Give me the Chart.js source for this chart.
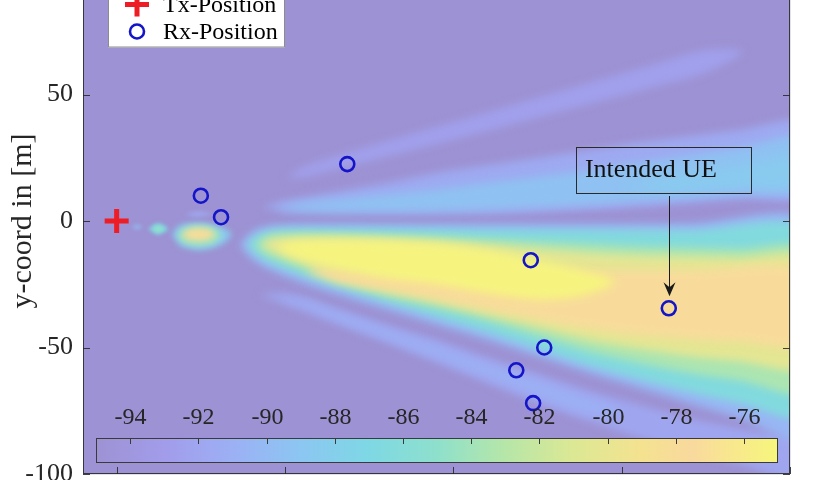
<!DOCTYPE html>
<html><head><meta charset="utf-8">
<script src="https://cdn.jsdelivr.net/npm/chart.js@4.4.1/dist/chart.umd.min.js"></script>
<style>
html,body{margin:0;padding:0;background:#fff;overflow:hidden;width:840px;height:480px;}
#wrap{position:absolute;left:0;top:-40px;width:840px;height:560px;}
canvas{display:block;}
</style></head><body>
<div id="wrap"><canvas id="c" width="840" height="560"></canvas></div>
<script>
// ===== data (x, y in metres; levels in dBm) =====
const xTicks = [0, 50, 100, 150, 200];
const yTicks = [-100, -50, 0, 50, 100];
const txX = [0];
const txY = [0];
const rxX = [25, 31, 68.5, 123, 164, 127, 118.7, 123.7];
const rxY = [10, 1.5, 22.5, -15.5, -34.5, -50, -59, -72];
const intendedIdx = 4;
const cbTicks = [-94, -92, -90, -88, -86, -84, -82, -80, -78, -76];
const cbRange = [-95, -75];
const legendLabels = ['Tx-Position', 'Rx-Position'];
const annText = 'Intended UE';
const yTitle = 'y-coord in [m]';

// contour outlines of the received-power field: upper edge (with tips) and lower edge
const s1Top = [[50,17],[56,21.7],[70,27.6],[85,33.4],[100,39.1],[115,44.9],[130,50.6],[145,56.4],[160,62.1],[175,67.6],[186,67]];
const s1Bot = [[56,17.3],[70,22],[85,27],[100,32.1],[115,37.3],[130,42.6],[145,47.8],[160,53.1],[175,58.6]];
const lsTop = [[42,-29],[50,-28.5],[65,-34.5],[80,-41],[95,-47],[110,-54],[125,-60.5],[140,-67],[155,-72.5],[170,-78],[185,-82],[205,-87]];
const lsBot = [[50,-33],[65,-40.5],[80,-48],[95,-56],[110,-64],[125,-72],[140,-79],[155,-85.5],[170,-91],[185,-96],[205,-103]];
const lsCoreTop = [[48,-31],[55,-31],[65,-36],[80,-43],[95,-49.5],[110,-56.5],[125,-63],[140,-70],[150,-75]];
const lsCoreBot = [[55,-32.5],[65,-38.5],[80,-46],[95,-53.5],[110,-61.5],[125,-69],[140,-76]];
const s2L1Top = [[43,5.5],[50,8],[65,11.5],[80,15],[95,19],[110,22],[125,25],[140,28],[155,31],[170,33.5],[185,36],[205,39]];
const s2L1Bot = [[50,3.5],[65,3],[80,2.8],[95,2.8],[110,3],[125,3.5],[140,4.5],[155,5.5],[170,7],[185,8.5],[205,10]];
const s2L2Top = [[47,5],[55,7],[65,8.5],[80,10.5],[95,12.5],[110,15],[125,17.5],[140,20],[155,23],[170,26],[185,29],[205,33]];
const s2L2Bot = [[55,4],[65,3.8],[80,3.8],[95,4],[110,4.5],[125,5.5],[140,6.5],[155,8],[170,9.5],[185,11],[205,12.5]];
const s2L3Top = [[150,13],[165,18],[185,22],[205,26]];
const s2L3Bot = [[165,11.5],[185,13],[205,14.5]];
const mainL1Top = [[36.5,-9.5],[40,-4.5],[45,-2],[55,-1.2],[80,-1.2],[110,-1.2],[140,-1.2],[170,-1],[205,-0.5]];
const mainL1Bot = [[40,-15],[45,-19],[55,-24.5],[65,-29],[80,-35],[95,-41],[110,-47],[125,-53.5],[140,-60],[155,-66],[170,-72],[185,-78],[205,-86]];
const mainL2Top = [[38.5,-9.5],[41,-6],[46,-3.6],[55,-3],[80,-3],[110,-3.3],[140,-3.4],[170,-3.6],[205,-4]];
const mainL2Bot = [[41,-13],[45,-16.5],[55,-21.5],[65,-26],[80,-32],[95,-38],[110,-44],[125,-50.5],[140,-57],[155,-62.5],[170,-67.5],[185,-72],[205,-76.5]];
const mainL3Top = [[41,-9.5],[44,-6.2],[50,-5],[65,-5],[80,-5.5],[95,-6],[110,-7],[125,-8],[140,-9],[155,-10],[170,-10.5],[185,-11],[205,-11.5]];
const mainL3Bot = [[44,-13],[50,-16.5],[65,-24],[80,-30],[95,-34.5],[110,-39.5],[125,-45.5],[140,-51.5],[155,-56],[170,-60],[185,-63],[205,-67]];
const mainL4Top = [[43,-9.5],[46,-7],[55,-6.3],[65,-6.3],[80,-6.8],[95,-7.8],[110,-9.3],[125,-11],[140,-12.5],[155,-13.5],[170,-14],[185,-14.5],[205,-15]];
const mainL4Bot = [[46,-12],[55,-16.5],[65,-22],[80,-27.5],[95,-32],[110,-37],[125,-42],[140,-47],[155,-50.5],[170,-53.5],[185,-55.5],[205,-57.5]];
const mainL5Top = [[56,-20],[62,-18.5],[80,-20],[110,-20],[140,-19.5],[170,-19.5],[205,-20]];
const mainL5Bot = [[62,-22.5],[65,-24],[80,-27.5],[95,-31],[110,-35],[125,-39],[140,-42.5],[155,-45],[170,-46.5],[185,-47.5],[205,-48.5]];
const mainL6Top = [[47,-10],[52,-8],[60,-7.5],[70,-7.5],[80,-7.8],[95,-9],[110,-11.5],[125,-15.5],[138,-19.5],[148,-24]];
const mainL6Bot = [[52,-14],[60,-17],[70,-20],[80,-22.5],[95,-25],[110,-28.5],[125,-31],[138,-29.5]];
const nf1 = [[4.4,-2.4],[6,-1.5],[7.6,-2.4],[6,-3.3]];
const nf2 = [[9.3,-3.2],[12.3,-0.9],[15.3,-3.2],[12.3,-5.5]];
const nf2c = [[10.6,-3.2],[12.3,-2],[14,-3.2],[12.3,-4.4]];
const nf3 = [[16.5,-5.5],[18.5,-2],[24,-0.8],[30.5,-2.2],[34,-5],[31.5,-9],[25,-11.5],[19,-10]];
const nf3m = [[18,-5.5],[20,-2.8],[25,-1.8],[29.5,-3.2],[31,-6],[28,-9.2],[22,-9.6],[19,-8]];
const nf3c = [[19.5,-5],[22.5,-3],[27.5,-3.4],[29,-5.5],[26,-7.6],[21,-7.3]];
const streak = [[20,2.6],[24,3.8],[28.5,2.8],[24,1.6]];

// ===== style =====
const FONT = '"Liberation Serif", "Times New Roman", serif';
const cmapV = [-95,-93,-91,-89,-87,-85,-83,-81,-79,-77.5,-76.5,-75];
const cmapC = [[157,146,211],[162,156,234],[156,176,244],[140,198,242],[126,216,228],[142,224,204],[182,230,168],[220,232,148],[244,226,144],[249,217,158],[248,230,144],[246,246,124]];
function cmap(v){
  if (v <= cmapV[0]) return 'rgb(' + cmapC[0].join(',') + ')';
  for (let i = 1; i < cmapV.length; i++) {
    if (v <= cmapV[i]) {
      const t = (v - cmapV[i-1]) / (cmapV[i] - cmapV[i-1]);
      const c = cmapC[i-1].map((a, k) => Math.round(a + (cmapC[i][k] - a) * t));
      return 'rgb(' + c.join(',') + ')';
    }
  }
  return 'rgb(' + cmapC[cmapC.length-1].join(',') + ')';
}
const ring = (top, bot) => top.concat(bot.slice().reverse()).map(p => ({x: p[0], y: p[1]}));
const closed = (pts) => pts.map(p => ({x: p[0], y: p[1]}));

const contours = [
  {pts: ring(s1Top, s1Bot), level: -92.6, blur: 4},
  {pts: ring(lsTop, lsBot), level: -92.0, blur: 4},
  {pts: ring(lsCoreTop, lsCoreBot), level: -91.0, blur: 5},
  {pts: ring(s2L1Top, s2L1Bot), level: -91.6, blur: 4},
  {pts: ring(s2L2Top, s2L2Bot), level: -89.4, blur: 5},
  {pts: ring(s2L3Top, s2L3Bot), level: -88.6, blur: 6},
  {pts: ring(mainL1Top, mainL1Bot), level: -90.5, blur: 4},
  {pts: ring(mainL2Top, mainL2Bot), level: -86.5, blur: 4},
  {pts: ring(mainL3Top, mainL3Bot), level: -83.5, blur: 4},
  {pts: ring(mainL4Top, mainL4Bot), level: -80.3, blur: 4},
  {pts: ring(mainL5Top, mainL5Bot), level: -77.8, blur: 5},
  {pts: ring(mainL6Top, mainL6Bot), level: -75.2, blur: 5},
  {pts: closed(streak), level: -92.0, blur: 2},
  {pts: closed(nf1), level: -90.0, blur: 2},
  {pts: closed(nf2), level: -87.0, blur: 2},
  {pts: closed(nf2c), level: -84.5, blur: 2},
  {pts: closed(nf3), level: -88.5, blur: 3},
  {pts: closed(nf3m), level: -84.0, blur: 3},
  {pts: closed(nf3c), level: -78.0, blur: 3}
];

const datasets = [
  {label: legendLabels[0], data: txX.map((x, i) => ({x, y: txY[i]})), pointStyle: 'cross',
   pointRadius: 12, pointBorderWidth: 5, pointBorderColor: '#ee1c24', pointBackgroundColor: '#ee1c24', order: 0},
  {label: legendLabels[1], data: rxX.map((x, i) => ({x, y: rxY[i]})), pointStyle: 'circle',
   pointRadius: 7, pointBorderWidth: 2.6, pointBorderColor: '#1414c8', pointBackgroundColor: 'rgba(0,0,0,0)', order: 1}
];
contours.forEach((c, i) => datasets.push({
  label: 'field' + i, data: c.pts, showLine: true, fill: 'shape', tension: 0.3,
  borderWidth: 0, pointRadius: 0, backgroundColor: cmap(c.level), blurPx: c.blur, order: 1000 - i
}));

function setBlur(ctx, chart, meta){
  const b = meta ? (chart.data.datasets[meta.index].blurPx || 0) : 0;
  ctx.filter = b ? 'blur(' + b + 'px)' : 'none';
}
const fieldPlugin = {
  id: 'field',
  beforeDatasetsDraw(chart){
    const {ctx, chartArea: a} = chart;
    ctx.save();
    ctx.fillStyle = cmap(cbRange[0]);
    ctx.fillRect(a.left, a.top, a.right - a.left, a.bottom - a.top);
    ctx.restore();
    const metas = chart.getSortedVisibleDatasetMetas();
    chart.$seq = metas;
    ctx.save();
    setBlur(ctx, chart, metas[metas.length - 1]);
  },
  afterDatasetDraw(chart, args){
    const metas = chart.$seq;
    const p = metas.indexOf(args.meta);
    setBlur(chart.ctx, chart, metas[p - 1]);
  },
  afterDatasetsDraw(chart){
    chart.ctx.filter = 'none';
    chart.ctx.restore();
  }
};

const overlayPlugin = {
  id: 'overlay',
  afterDraw(chart){
    const {ctx, chartArea: a, scales: {x, y}} = chart;
    const inY = v => v >= y.min && v <= y.max;
    // frame + inward ticks
    ctx.save();
    ctx.strokeStyle = 'rgba(38,38,38,0.85)';
    ctx.lineWidth = 1;
    ctx.strokeRect(a.left + 0.5, a.top + 0.5, a.right - a.left - 1, a.bottom - a.top - 1);
    ctx.beginPath();
    yTicks.filter(inY).forEach(v => {
      const py = Math.round(y.getPixelForValue(v)) + 0.5;
      ctx.moveTo(a.left, py); ctx.lineTo(a.left + 7, py);
      ctx.moveTo(a.right, py); ctx.lineTo(a.right - 7, py);
    });
    xTicks.forEach(v => {
      const px = Math.round(x.getPixelForValue(v)) + 0.5;
      ctx.moveTo(px, a.bottom); ctx.lineTo(px, a.bottom - 7);
      ctx.moveTo(px, a.top); ctx.lineTo(px, a.top + 7);
    });
    ctx.stroke();
    ctx.restore();

    // y-axis title, centred on the axis span (y = 0 of the full -100..100 axis)
    ctx.save();
    ctx.translate(23, y.getPixelForValue(0));
    ctx.rotate(-Math.PI / 2);
    ctx.font = '30px ' + FONT;
    ctx.fillStyle = '#262626';
    ctx.textAlign = 'center';
    ctx.textBaseline = 'middle';
    ctx.fillText(yTitle, 0, 0);
    ctx.restore();

    // colour bar (inside axes, bottom)
    const cb = {l: a.left + 13, r: a.right - 12, t: a.bottom - 36, b: a.bottom - 11};
    const g = ctx.createLinearGradient(cb.l, 0, cb.r, 0);
    cmapV.forEach((v, i) => g.addColorStop((v - cbRange[0]) / (cbRange[1] - cbRange[0]), 'rgb(' + cmapC[i].join(',') + ')'));
    ctx.save();
    ctx.fillStyle = g;
    ctx.fillRect(cb.l, cb.t, cb.r - cb.l, cb.b - cb.t);
    ctx.strokeStyle = '#3a3a3a';
    ctx.lineWidth = 1;
    ctx.strokeRect(cb.l + 0.5, cb.t + 0.5, cb.r - cb.l - 1, cb.b - cb.t - 1);
    ctx.font = '24px ' + FONT;
    ctx.fillStyle = '#262626';
    ctx.textAlign = 'center';
    ctx.textBaseline = 'middle';
    ctx.beginPath();
    cbTicks.forEach(v => {
      const px = Math.round(cb.l + (v - cbRange[0]) / (cbRange[1] - cbRange[0]) * (cb.r - cb.l)) + 0.5;
      ctx.moveTo(px, cb.t); ctx.lineTo(px, cb.t + 6);
      ctx.fillText(String(v), px, cb.t - 20);
    });
    ctx.stroke();
    ctx.restore();

    // annotation text box + arrow to intended UE
    const bx0 = x.getPixelForValue(136.4), bx1 = x.getPixelForValue(188.4);
    const by0 = y.getPixelForValue(29.25), by1 = y.getPixelForValue(11.07);
    ctx.save();
    ctx.strokeStyle = '#2a2a2a';
    ctx.lineWidth = 1;
    ctx.strokeRect(Math.round(bx0) + 0.5, Math.round(by0) + 0.5, Math.round(bx1 - bx0), Math.round(by1 - by0));
    ctx.font = '26px ' + FONT;
    ctx.fillStyle = '#111';
    ctx.textAlign = 'left';
    ctx.textBaseline = 'middle';
    ctx.fillText(annText, bx0 + 9, (by0 + by1) / 2);
    const ax = Math.round(x.getPixelForValue(rxX[intendedIdx])) + 0.5;
    const ay0 = by1 + 3;
    const ay1 = y.getPixelForValue(rxY[intendedIdx]) - 12;
    ctx.strokeStyle = '#1a1a1a';
    ctx.beginPath(); ctx.moveTo(ax, ay0); ctx.lineTo(ax, ay1 - 8); ctx.stroke();
    ctx.fillStyle = '#1a1a1a';
    ctx.beginPath();
    ctx.moveTo(ax, ay1); ctx.lineTo(ax - 6, ay1 - 14); ctx.lineTo(ax, ay1 - 9); ctx.lineTo(ax + 6, ay1 - 14);
    ctx.closePath(); ctx.fill();
    ctx.restore();

    // legend (inside axes, north-west), anchored to the y = 50 grid line
    const y50 = y.getPixelForValue(50);
    const L = {l: a.left + 25, r: a.left + 202, t: y50 - 106, b: y50 - 47};
    ctx.save();
    ctx.fillStyle = '#ffffff';
    ctx.fillRect(L.l, L.t, L.r - L.l, L.b - L.t);
    ctx.strokeStyle = '#8c8c8c';
    ctx.lineWidth = 1;
    ctx.strokeRect(L.l + 0.5, L.t + 0.5, L.r - L.l - 1, L.b - L.t - 1);
    const rows = [y50 - 90, y50 - 63];
    [0, 1].forEach(i => {
      const ds = chart.data.datasets[i];
      ctx.strokeStyle = ds.pointBorderColor;
      ctx.fillStyle = ds.pointBackgroundColor;
      ctx.lineWidth = ds.pointBorderWidth;
      Chart.helpers.drawPoint(ctx, {pointStyle: ds.pointStyle, radius: ds.pointRadius, borderWidth: ds.pointBorderWidth, rotation: 0}, L.l + 29, rows[i]);
      ctx.font = '24px ' + FONT;
      ctx.fillStyle = '#000';
      ctx.textAlign = 'left';
      ctx.textBaseline = 'middle';
      ctx.fillText(ds.label, L.l + 55, rows[i] + 1);
    });
    ctx.restore();
  }
};

const PX_PER_M_Y = 2.53;   // vertical metres-to-pixels ratio of the original figure
let yMax = 100;
const chart = new Chart(document.getElementById('c'), {
  type: 'scatter',
  data: {datasets},
  options: {
    responsive: false,
    maintainAspectRatio: false,
    animation: false,
    events: [],
    layout: {padding: {top: 8, right: 50, bottom: 0, left: 0}},
    plugins: {legend: {display: false}, tooltip: {enabled: false}},
    scales: {
      x: {
        type: 'linear', min: -10, max: 200, z: 1,
        afterBuildTicks: s => { s.ticks = xTicks.map(v => ({value: v})); },
        afterFit: s => { s.height = 20; s.paddingLeft = 0; s.paddingRight = 0; },
        ticks: {display: false},
        grid: {drawTicks: false, color: 'rgba(30,30,30,0.13)', lineWidth: 1},
        border: {display: false}
      },
      y: {
        type: 'linear', z: 1, bounds: 'data',
        afterDataLimits: s => { s.min = -100; s.max = yMax; },
        afterBuildTicks: s => { s.min = -100; s.max = yMax; s.ticks = yTicks.filter(v => v <= yMax).map(v => ({value: v})); },
        afterFit: s => { s.width = 83; s.paddingTop = 0; s.paddingBottom = 0; },
        ticks: {autoSkip: false, padding: 10, color: '#262626', font: {family: FONT, size: 26}},
        grid: {drawTicks: false, color: 'rgba(30,30,30,0.13)', lineWidth: 1},
        border: {display: false},
        title: {display: false}
      }
    }
  },
  plugins: [fieldPlugin, overlayPlugin]
});
// match the original's vertical scale, then place y = -100 at row 474 of the page
const a0 = chart.chartArea;
yMax = -100 + (a0.bottom - a0.top) / PX_PER_M_Y;
chart.update();
const a1 = chart.chartArea;
document.getElementById('wrap').style.top = (474 - a1.bottom) + 'px';
</script>
</body></html>
